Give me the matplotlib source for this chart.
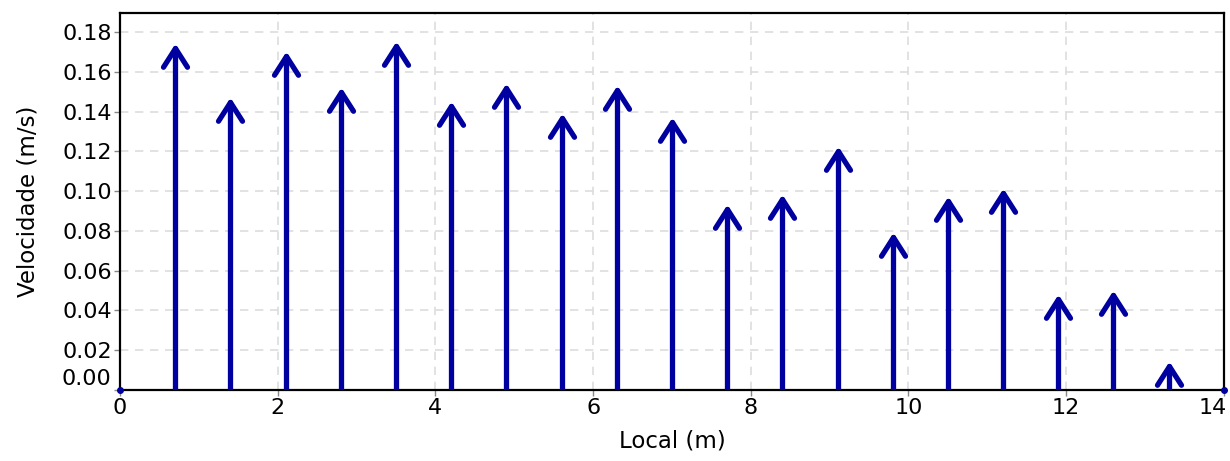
# Campo de velocidades ao longo da seção
import numpy as np
import matplotlib
matplotlib.use("Agg")
import matplotlib.pyplot as plt
import matplotlib.transforms as mtransforms
from matplotlib.path import Path
from matplotlib.markers import MarkerStyle

# Dados
local = [0.7, 1.4, 2.1, 2.8, 3.5, 4.2, 4.9, 5.6, 6.3, 7.0,
         7.7, 8.4, 9.1, 9.8, 10.5, 11.2, 11.9, 12.6, 13.3]
velocidade = [0.172, 0.145, 0.168, 0.150, 0.173, 0.143, 0.152, 0.137, 0.151, 0.135,
              0.091, 0.096, 0.120, 0.077, 0.095, 0.099, 0.046, 0.048, 0.012]
margens = [0.0, 14.0]   # pontos de velocidade nula nas margens

yticks = [0.00, 0.02, 0.04, 0.06, 0.08, 0.10, 0.12, 0.14, 0.16, 0.18]
xticks = [0, 2, 4, 6, 8, 10, 12, 14]

cor = "#0000a0"
plt.rcParams['font.family'] = ['DejaVu Sans']

fig = plt.figure(figsize=(12.3, 4.61), dpi=100)
ax = fig.add_axes([0.0976, 0.154, 0.8974, 0.8185])

# ponta da seta (chevron aberto) como marcador
ponta = Path([(-11.7 / 18.3, -1.0), (0.0, 0.0), (11.7 / 18.3, -1.0)],
             [Path.MOVETO, Path.LINETO, Path.LINETO])
mponta = MarkerStyle(ponta, fillstyle="none", capstyle="round", joinstyle="round")

lw = 3.8
ax.vlines(local, 0, velocidade, color=cor, lw=lw, capstyle="round", zorder=3)
ax.plot(local, velocidade, ls="none", marker=mponta, ms=27,
        mec=cor, mew=lw, zorder=4, clip_on=False)
ax.plot(margens, [0, 0], "o", color=cor, ms=4, ls="none", clip_on=False, zorder=5)

ax.set_xlim(0, 14)
ax.set_ylim(0.0012, 0.1898)
ax.set_xticks(xticks)
ax.set_yticks(yticks)
ax.set_yticklabels(["%.2f" % t for t in yticks])
ax.tick_params(direction="out", length=4, width=1, color="#888888",
               labelsize=16, pad=2)

# rótulo 0.00 deslocado para cima, e 14 para a esquerda, como no original
lab0 = ax.get_yticklabels()[0]
lab0.set_transform(lab0.get_transform() +
                   mtransforms.ScaledTranslation(0, 13 / 100, fig.dpi_scale_trans))
lab14 = ax.get_xticklabels()[-1]
lab14.set_transform(lab14.get_transform() +
                    mtransforms.ScaledTranslation(-11 / 100, 0, fig.dpi_scale_trans))

ax.grid(True, color="#dddddd", linestyle=(0, (5, 4)), linewidth=1.2)
ax.set_axisbelow(True)
for s in ax.spines.values():
    s.set_linewidth(1.6)
    s.set_color("black")

ax.set_xlabel("Local (m)", fontsize=16.5, labelpad=8)
ax.set_ylabel("Velocidade (m/s)", fontsize=16.5, labelpad=16)

fig.savefig("out.png", dpi=100)
